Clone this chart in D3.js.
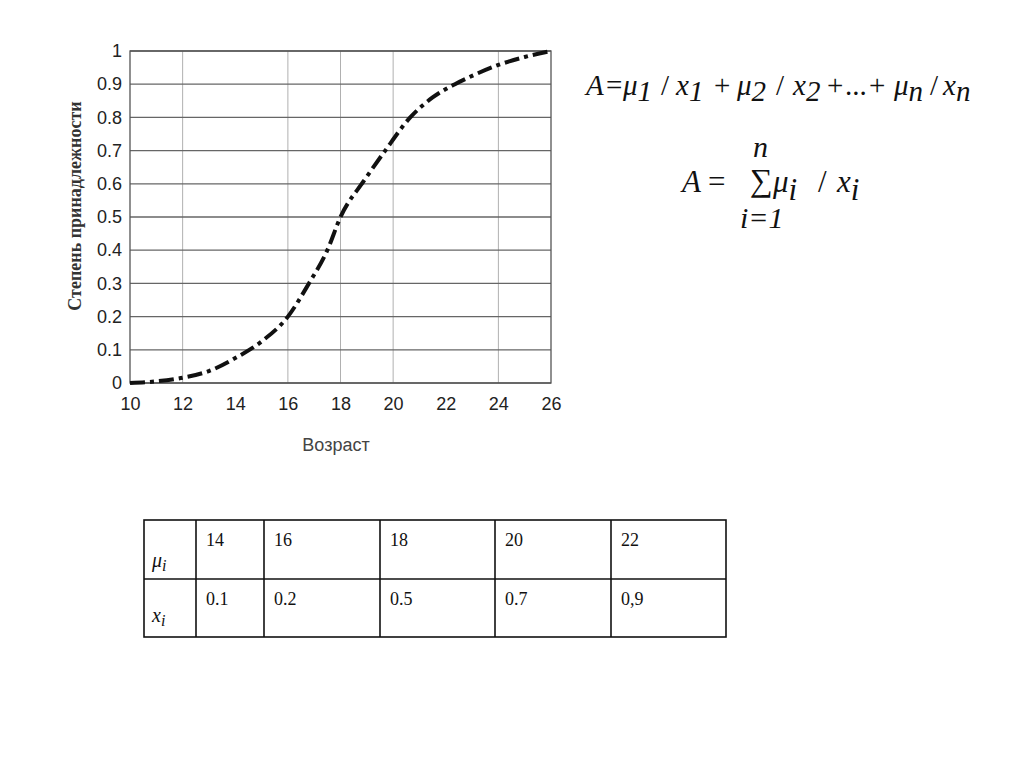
<!DOCTYPE html>
<html>
<head>
<meta charset="utf-8">
<script src="https://cdn.jsdelivr.net/npm/d3@7"></script>
<style>
  body { margin: 0; background: #fff; }
  svg { display: block; }
</style>
</head>
<body>
<div id="chart"></div>
<script>
// membership curve
const ages = [10, 11, 12, 13, 14, 15, 16, 16.8, 17.5, 18, 18.9, 19.7, 20.65, 21.5, 22.35, 23, 24, 25, 26];
const degree = [0, 0.005, 0.016, 0.036, 0.075, 0.125, 0.2, 0.3, 0.4, 0.5, 0.61, 0.7, 0.8, 0.86, 0.9, 0.925, 0.958, 0.982, 1];

const xTicks = [10, 12, 14, 16, 18, 20, 22, 24, 26];
const xGrid = [12, 16, 18, 20, 24];
const yTicks = [0, 0.1, 0.2, 0.3, 0.4, 0.5, 0.6, 0.7, 0.8, 0.9, 1];

// table
const tableAges = ["14", "16", "18", "20", "22"];
const tableDegrees = ["0.1", "0.2", "0.5", "0.7", "0,9"];

const width = 1024, height = 767;
const plot = { left: 130, right: 551, top: 51, bottom: 383 };
const sans = "Liberation Sans, Arial, sans-serif";
const serif = "Liberation Serif, Times New Roman, serif";

const svg = d3.select("#chart").append("svg")
  .attr("width", width)
  .attr("height", height);

const x = d3.scaleLinear().domain([10, 26]).range([plot.left, plot.right]);
const y = d3.scaleLinear().domain([0, 1]).range([plot.bottom, plot.top]);

// grid
svg.append("g")
  .selectAll("line")
  .data(xGrid)
  .join("line")
  .attr("x1", d => x(d)).attr("x2", d => x(d))
  .attr("y1", plot.top).attr("y2", plot.bottom)
  .attr("stroke", "#b0b0b0")
  .attr("stroke-width", 1);

svg.append("g")
  .selectAll("line")
  .data(yTicks)
  .join("line")
  .attr("x1", plot.left).attr("x2", plot.right)
  .attr("y1", d => y(d)).attr("y2", d => y(d))
  .attr("stroke", "#666")
  .attr("stroke-width", 1.3);

svg.append("rect")
  .attr("x", plot.left).attr("y", plot.top)
  .attr("width", plot.right - plot.left)
  .attr("height", plot.bottom - plot.top)
  .attr("fill", "none")
  .attr("stroke", "#555")
  .attr("stroke-width", 1.3);

// axes (labels only)
const xAxis = svg.append("g")
  .attr("transform", `translate(0,${plot.bottom})`)
  .call(d3.axisBottom(x).tickValues(xTicks).tickSize(0).tickPadding(14).tickFormat(d3.format("d")));
xAxis.select(".domain").remove();
xAxis.selectAll("text")
  .attr("font-family", sans)
  .attr("font-size", 18)
  .attr("fill", "#222");

const yAxis = svg.append("g")
  .attr("transform", `translate(${plot.left},0)`)
  .call(d3.axisLeft(y).tickValues(yTicks).tickSize(0).tickPadding(8)
    .tickFormat(d => d === 0 || d === 1 ? d3.format("d")(d) : d3.format(".1f")(d)));
yAxis.select(".domain").remove();
yAxis.selectAll("text")
  .attr("font-family", sans)
  .attr("font-size", 18)
  .attr("fill", "#222");

svg.append("text")
  .attr("x", 336)
  .attr("y", 451)
  .attr("text-anchor", "middle")
  .attr("font-family", sans)
  .attr("font-size", 18)
  .attr("fill", "#444")
  .text("Возраст");

svg.append("text")
  .attr("transform", `translate(81,206) rotate(-90)`)
  .attr("text-anchor", "middle")
  .attr("font-family", serif)
  .attr("font-weight", "bold")
  .attr("font-size", 18)
  .attr("fill", "#333")
  .text("Степень принадлежности");

// curve
const line = d3.line()
  .x((d, i) => x(ages[i]))
  .y(d => y(d))
  .curve(d3.curveMonotoneX);

svg.append("path")
  .datum(degree)
  .attr("d", line)
  .attr("fill", "none")
  .attr("stroke", "#111")
  .attr("stroke-width", 4)
  .attr("stroke-dasharray", "15 5 4 5");

// formulas: each token is [base, left x, italic, subscript, font size, baseline]
function formula(tokens, baseline, size, subShift) {
  const g = svg.append("g")
    .attr("font-family", serif)
    .attr("font-size", size)
    .attr("fill", "#111");
  const t = g.selectAll("text")
    .data(tokens)
    .join("text")
    .attr("x", d => d[1])
    .attr("y", d => d[5] || baseline)
    .attr("font-style", d => d[2] ? "italic" : "normal")
    .attr("font-size", d => d[4] || size);
  t.append("tspan").text(d => d[0]);
  t.filter(d => d[3])
    .append("tspan")
    .attr("dy", subShift)
    .text(d => d[3]);
}

formula([
  ["A", 586, true], ["=", 606, false],
  ["μ", 623, true, "1"], ["/", 661, false],
  ["x", 676, true, "1"], ["+", 714, false],
  ["μ", 737, true, "2"], ["/", 776, false],
  ["x", 793, true, "2"], ["+", 827, false],
  ["...", 845, false], ["+", 869, false],
  ["μ", 894, true, "n"], ["/", 930, false],
  ["x", 943, true, "n"]
], 95, 29, 6);

formula([
  ["A", 682, true], ["=", 708, false],
  ["∑", 750, false, null, 32, 191],
  ["μ", 773, true, "i"], ["/", 818, false],
  ["x", 837, true, "i"],
  ["n", 753, true, null, 30, 157],
  ["i=1", 740, true, null, 30, 228]
], 192, 31, 8);

// table
const colEdges = [144, 196, 264, 380, 495, 611, 726];
const rowEdges = [520, 579, 637];
const tbl = svg.append("g");
tbl.append("rect")
  .attr("x", colEdges[0]).attr("y", rowEdges[0])
  .attr("width", colEdges[6] - colEdges[0])
  .attr("height", rowEdges[2] - rowEdges[0])
  .attr("fill", "none").attr("stroke", "#111").attr("stroke-width", 1.6);
tbl.selectAll(".vline")
  .data(colEdges.slice(1, -1))
  .join("line")
  .attr("x1", d => d).attr("x2", d => d)
  .attr("y1", rowEdges[0]).attr("y2", rowEdges[2])
  .attr("stroke", "#111").attr("stroke-width", 1.6);
tbl.append("line")
  .attr("x1", colEdges[0]).attr("x2", colEdges[6])
  .attr("y1", rowEdges[1]).attr("y2", rowEdges[1])
  .attr("stroke", "#111").attr("stroke-width", 1.6);

[tableAges, tableDegrees].forEach((row, r) => {
  tbl.selectAll(".cell" + r)
    .data(row)
    .join("text")
    .attr("x", (d, i) => colEdges[i + 1] + 10)
    .attr("y", rowEdges[r] + 26)
    .attr("font-family", serif)
    .attr("font-size", 18)
    .attr("fill", "#111")
    .text(d => d);
});

[["μ", 567], ["x", 622]].forEach(([sym, yy]) => {
  const t = tbl.append("text")
    .attr("x", 152).attr("y", yy)
    .attr("font-family", serif).attr("font-style", "italic")
    .attr("font-size", 20).attr("fill", "#111");
  t.append("tspan").text(sym);
  t.append("tspan").attr("dy", 4).attr("font-size", 16).text("i");
});
</script>
</body>
</html>
